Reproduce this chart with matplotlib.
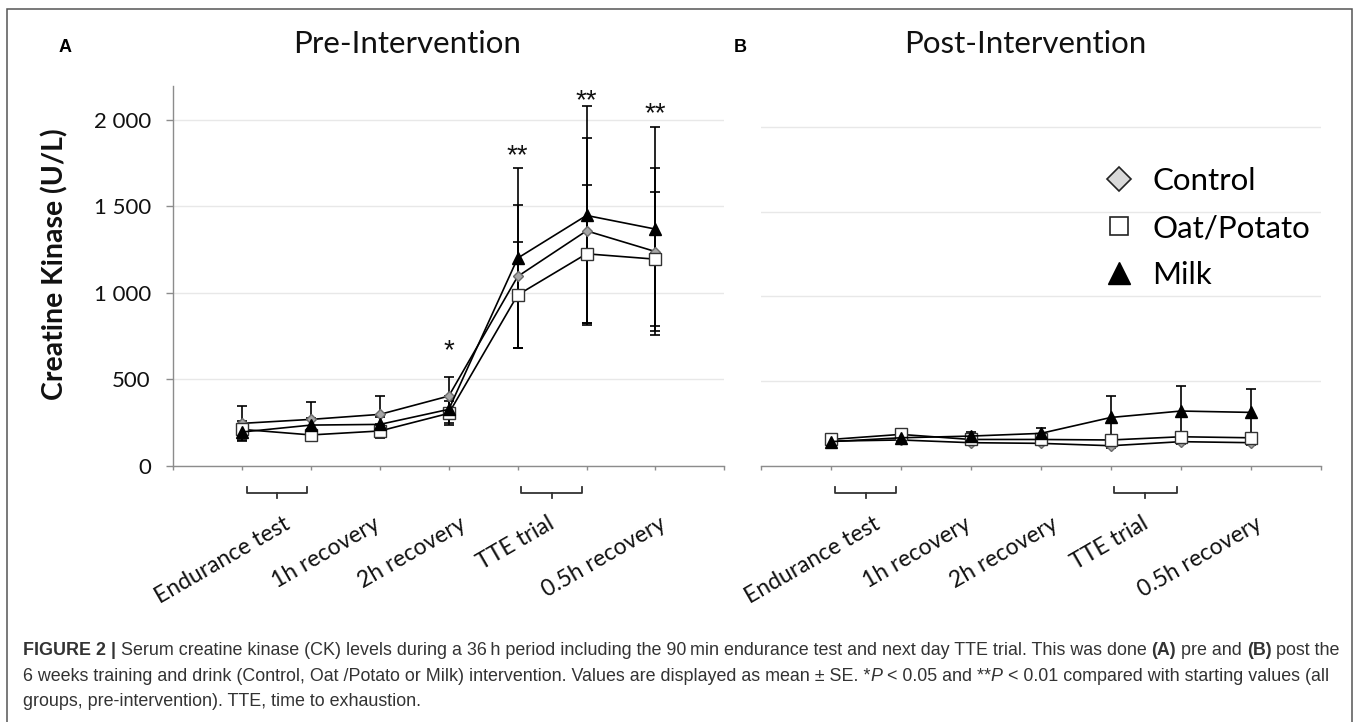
import matplotlib

matplotlib.use("Agg")
import matplotlib.pyplot as plt
import matplotlib.transforms as mtransforms
import numpy as np
from matplotlib.lines import Line2D
from matplotlib.patches import Rectangle
from matplotlib.ticker import FixedLocator, FuncFormatter

W, H, DPI = 1358, 722, 100

# time points along the 36 h protocol (x = 1..7)
TIMEPOINTS = np.arange(1, 8)
SERIES = ["Control", "Oat/Potato", "Milk"]

# panel A, pre-intervention (U/L, mean and SE)
PRE_CONTROL = [245, 268, 297, 403, 1095, 1359, 1239]
PRE_CONTROL_SE = [100, 100, 105, 112, 415, 535, 481]
PRE_OAT = [210, 178, 201, 303, 988, 1226, 1195]
PRE_OAT_SE = [50, 35, 40, 70, 308, 399, 386]
PRE_MILK = [195, 235, 239, 326, 1201, 1448, 1369]
PRE_MILK_SE = [45, 40, 45, 80, 521, 635, 592]

# panel B, post-intervention
POST_CONTROL = [145, 152, 136, 132, 118, 142, 136]
POST_CONTROL_SE = [12, 12, 12, 12, 12, 12, 12]
POST_OAT = [155, 185, 155, 155, 152, 171, 165]
POST_OAT_SE = [15, 15, 15, 15, 15, 15, 15]
POST_MILK = [142, 165, 175, 191, 285, 323, 315]
POST_MILK_SE = [20, 20, 25, 30, 128, 150, 139]

# significance marks on panel A
SIG_TIMEPOINTS = [4, 5, 6, 7]
SIG_MARKS = ["*", "**", "**", "**"]
SIG_Y = [712, 1842, 2160, 2087]

PHASE_LABELS = ["Endurance test", "1h recovery", "2h recovery", "TTE trial", "0.5h recovery"]
PHASE_X = [1.6, 2.9, 4.15, 5.43, 7.05]
BRACKETS = [(1.07, 1.94), (5.05, 5.94)]

Y_TICKS = [0, 500, 1000, 1500, 2000]

STYLES = {
    "Control": dict(marker="D", ms=5.4, mfc="#a6a6a6", mec="#6a6a6a", mew=1.0),
    "Oat/Potato": dict(marker="s", ms=8.0, mfc="white", mec="#333333", mew=1.0),
    "Milk": dict(marker="^", ms=8.5, mfc="black", mec="black", mew=1.0),
}
LEGEND_STYLES = {
    "Control": dict(marker="D", ms=12.5, mfc="#d9d9d9", mec="#222222", mew=1.2),
    "Oat/Potato": dict(marker="s", ms=13.0, mfc="white", mec="#222222", mew=1.2),
    "Milk": dict(marker="^", ms=16.0, mfc="black", mec="black", mew=1.0),
}

CHART_FONT = "Lato"
CAPTION_FONT = ["Liberation Sans", "DejaVu Sans"]
SPINE = "#8c8c8c"
GRID = "#e8e8e8"


def px_axes(fig, left, top, right, bottom):
    return fig.add_axes([left / W, 1 - bottom / H, (right - left) / W, (bottom - top) / H])


def style_axis(ax, ymax, show_y):
    ax.set_xlim(0, 8)
    ax.set_ylim(0, ymax)
    ax.xaxis.set_major_locator(FixedLocator(range(0, 9)))
    ax.xaxis.set_major_formatter(FuncFormatter(lambda v, p: ""))
    ax.yaxis.set_major_locator(FixedLocator(Y_TICKS))
    ax.yaxis.set_major_formatter(FuncFormatter(lambda v, p: f"{int(v):,}".replace(",", " ")))
    ax.grid(axis="y", color=GRID, linewidth=1.0, zorder=0)
    ax.set_axisbelow(True)
    for side in ("top", "right"):
        ax.spines[side].set_visible(False)
    ax.spines["bottom"].set_color(SPINE)
    ax.spines["left"].set_color(SPINE)
    ax.spines["bottom"].set_linewidth(1.0)
    ax.spines["left"].set_linewidth(1.0)
    ax.tick_params(axis="x", direction="out", length=2.6, width=1.0, color=SPINE)
    ax.tick_params(axis="y", direction="out", length=5.2, width=1.0, color=SPINE,
                   labelsize=16, pad=11, labelcolor="#111111")
    for lab in ax.get_yticklabels():
        lab.set_fontfamily(CHART_FONT)
    if not show_y:
        ax.spines["left"].set_visible(False)
        ax.tick_params(axis="y", left=False, labelleft=False)


def draw_series(ax, groups):
    for name, (vals, se) in zip(SERIES, groups):
        ax.errorbar(TIMEPOINTS, vals, yerr=se, fmt="none", ecolor="black",
                    elinewidth=1.2, capsize=3.8, capthick=1.2, zorder=2)
    for name, (vals, se) in zip(SERIES, groups):
        ax.plot(TIMEPOINTS, vals, color="black", linewidth=1.2, zorder=3,
                linestyle="-", **STYLES[name])


def draw_phase_labels(ax):
    trans = mtransforms.blended_transform_factory(ax.transData, ax.transAxes)
    for x, label in zip(PHASE_X, PHASE_LABELS):
        ax.text(x, -0.125, label, transform=trans, rotation=30, rotation_mode="anchor",
                ha="right", va="top", fontsize=16.5, family=CHART_FONT, color="#111111")
    for x0, x1 in BRACKETS:
        xm = (x0 + x1) / 2
        ax.add_line(Line2D([x0, x0, x1, x1], [-0.057, -0.073, -0.073, -0.057],
                           transform=trans, color="#333333", lw=1.3, clip_on=False))
        ax.add_line(Line2D([xm, xm], [-0.073, -0.086], transform=trans,
                           color="#333333", lw=1.3, clip_on=False))


def space_width(fig, renderer, size, weight, style):
    a = fig.text(0, 0, "xx", fontsize=size, family=CAPTION_FONT, weight=weight, style=style)
    b = fig.text(0, 0, "x x", fontsize=size, family=CAPTION_FONT, weight=weight, style=style)
    w = b.get_window_extent(renderer).width - a.get_window_extent(renderer).width
    a.remove()
    b.remove()
    return w


def rich_line(fig, renderer, x_px, y_px, segments, size, draw=True):
    x = x_px
    for text, weight, style in segments:
        sp = space_width(fig, renderer, size, weight, style)
        lead = len(text) - len(text.lstrip(" "))
        trail = len(text) - len(text.rstrip(" "))
        core = text.strip(" ")
        x += lead * sp
        t = fig.text(x / W, 1 - y_px / H, core, fontsize=size, family=CAPTION_FONT,
                     weight=weight, style=style, color="#333333", va="baseline", ha="left")
        x += t.get_window_extent(renderer).width + trail * sp
        if not draw:
            t.remove()
    return x - x_px


N, B, I = "normal", "bold", "italic"
CAPTION = [
    [("FIGURE 2 |", B, N),
     (" Serum creatine kinase (CK) levels during a 36\u2009h period including the 90\u2009min "
      "endurance test and next day TTE trial. This was done ", N, N),
     ("(A)", B, N), (" pre and ", N, N), ("(B)", B, N), (" post the", N, N)],
    [("6 weeks training and drink (Control, Oat /Potato or Milk) intervention. Values are "
      "displayed as mean \u00b1 SE. *", N, N), ("P", N, I), (" < 0.05 and **", N, N),
     ("P", N, I), (" < 0.01 compared with starting values (all", N, N)],
    [("groups, pre-intervention). TTE, time to exhaustion.", N, N)],
]


def main():
    fig = plt.figure(figsize=(W / DPI, H / DPI), dpi=DPI)
    renderer = fig.canvas.get_renderer()

    ax_a = px_axes(fig, 173.3, 86, 724.3, 465.7)
    style_axis(ax_a, 2197, True)
    draw_series(ax_a, [(PRE_CONTROL, PRE_CONTROL_SE), (PRE_OAT, PRE_OAT_SE),
                       (PRE_MILK, PRE_MILK_SE)])
    star_size = 20
    for x, mark, y in zip(SIG_TIMEPOINTS, SIG_MARKS, SIG_Y):
        # asterisk glyph sits high in the line box, so anchor on the baseline
        shift = mtransforms.offset_copy(ax_a.transData, fig=fig, x=0,
                                        y=-0.57 * star_size, units="points")
        ax_a.text(x, y, mark, transform=shift, ha="center", va="baseline",
                  fontsize=star_size, family=CAPTION_FONT, color="#111111")
    draw_phase_labels(ax_a)

    ax_b = px_axes(fig, 760.5, 86, 1321, 465.7)
    style_axis(ax_b, 2244, False)
    draw_series(ax_b, [(POST_CONTROL, POST_CONTROL_SE), (POST_OAT, POST_OAT_SE),
                       (POST_MILK, POST_MILK_SE)])
    draw_phase_labels(ax_b)

    handles = [Line2D([], [], linestyle="none", **LEGEND_STYLES[s]) for s in SERIES]
    ax_b.legend(handles, SERIES, loc="upper left",
                bbox_to_anchor=(1103 / W, 1 - 167 / H), bbox_transform=fig.transFigure,
                frameon=False, borderpad=0, borderaxespad=0, handlelength=1.0,
                handletextpad=0.57, labelspacing=0.61,
                prop={"family": CHART_FONT, "size": 22.5})

    fig.text(406.7 / W, 1 - 52.7 / H, "Pre-Intervention", ha="center", va="baseline",
             fontsize=22.5, family=CHART_FONT, color="#111111")
    fig.text(1025 / W, 1 - 52.7 / H, "Post-Intervention", ha="center", va="baseline",
             fontsize=22.5, family=CHART_FONT, color="#111111")
    fig.text(65 / W, 1 - 47 / H, "A", ha="center", va="center", fontsize=13,
             weight="bold", family=CAPTION_FONT)
    fig.text(740 / W, 1 - 47 / H, "B", ha="center", va="center", fontsize=13,
             weight="bold", family=CAPTION_FONT)
    fig.text(54.5 / W, 1 - 264 / H, "Creatine Kinase (U/L)", rotation=90, ha="center",
             va="center", fontsize=20.5, weight="bold", family=CHART_FONT, color="#111111")

    # caption sized so the first line fills the box width
    trial = rich_line(fig, renderer, 0, 0, CAPTION[0], 10, draw=False)
    size = 10 * (1340.7 - 22.7) / trial
    for line, y in zip(CAPTION, (655, 681, 706)):
        rich_line(fig, renderer, 22.7, y, line, size)

    fig.patches.append(Rectangle((7.3 / W, -0.05), (1352 - 7.3) / W, 1.05 - 9.3 / H,
                                 transform=fig.transFigure, fill=False,
                                 edgecolor="#555555", linewidth=1.1))

    fig.savefig("out.png", dpi=DPI)
    plt.close(fig)


if __name__ == "__main__":
    main()
